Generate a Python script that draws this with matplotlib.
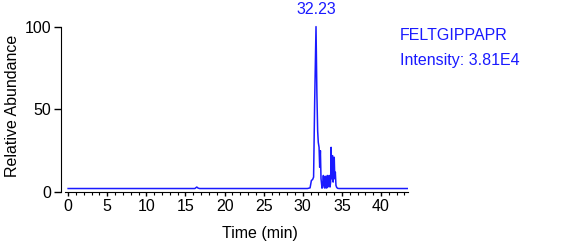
import matplotlib.pyplot as plt
from matplotlib.ticker import MultipleLocator

# chromatogram (time in min, relative abundance in %)
time = [0.0, 16.2, 16.45, 16.6, 16.8, 30.6, 30.93, 31.1, 31.25, 31.38, 31.52, 31.69,
        31.8, 31.9, 31.98, 32.08, 32.16, 32.25, 32.33, 32.46, 32.55, 32.63, 32.72,
        32.8, 32.88, 32.95, 33.06, 33.14, 33.2, 33.3, 33.38, 33.48, 33.56, 33.62,
        33.7, 33.8, 33.88, 33.95, 34.02, 34.09, 34.16, 34.24, 34.33, 34.46, 34.67, 43.4]
abundance = [2.1, 2.1, 3.0, 2.4, 2.1, 2.1, 2.5, 7.0, 7.5, 9.0, 55.0, 100.0,
             60.0, 37.0, 30.0, 27.0, 15.0, 25.0, 8.0, 2.3, 5.0, 10.0, 3.0,
             2.4, 9.5, 2.6, 2.4, 10.0, 3.0, 4.0, 10.0, 3.0, 6.0, 27.0,
             8.0, 22.0, 6.0, 14.0, 21.0, 8.0, 12.0, 4.0, 2.8, 2.2, 2.1, 2.1]

peak_label = "32.23"
peak_time = 31.69
info_lines = ["FELTGIPPAPR", "Intensity: 3.81E4"]

plt.rcParams['font.family'] = ['Liberation Sans', 'DejaVu Sans']
blue = '#1a1aff'
fs = 11.5

fig = plt.figure(figsize=(5.7, 2.45), dpi=100)
ax = fig.add_axes([65 / 570, 53 / 245, 343 / 570, 172 / 245])

ax.plot(time, abundance, color=blue, lw=1.1)
ax.set_xlim(-0.4, 43.45)
ax.set_ylim(0, 104)

ax.spines['top'].set_visible(False)
ax.spines['right'].set_visible(False)
ax.spines['left'].set_position(('outward', 3))
ax.spines['left'].set_bounds(0, 100)

ax.set_yticks([0, 50, 100])
ax.xaxis.set_major_locator(MultipleLocator(5))
ax.xaxis.set_minor_locator(MultipleLocator(1))
ax.tick_params(axis='y', length=5, width=1, pad=2, labelsize=fs)
ax.tick_params(axis='x', which='major', length=3, width=1, pad=2, labelsize=fs)
ax.tick_params(axis='x', which='minor', length=2, width=0.8)

ax.set_xlabel("Time (min)", fontsize=fs)
ax.xaxis.set_label_coords((260 - 65) / 343, -0.20)
ax.set_ylabel("Relative Abundance", fontsize=fs, labelpad=3)

ax.annotate(peak_label, (peak_time, 100), xytext=(0, 7), textcoords='offset points',
            color=blue, fontsize=fs, ha='center', va='bottom', annotation_clip=False)
fig.text(400 / 570, 1 - 35 / 245, info_lines[0], color=blue, fontsize=fs,
         ha='left', va='center')
fig.text(400 / 570, 1 - 60 / 245, info_lines[1], color=blue, fontsize=fs,
         ha='left', va='center')

fig.savefig("out.png", dpi=100)
